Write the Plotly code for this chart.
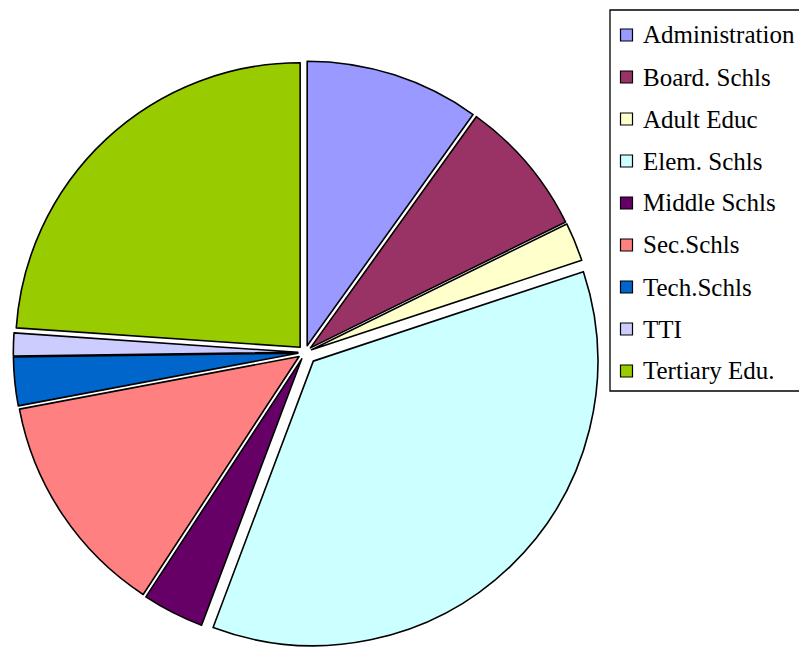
import plotly.graph_objects as go

labels = ["Administration", "Board. Schls", "Adult Educ", "Elem. Schls", "Middle Schls",
          "Sec.Schls", "Tech.Schls", "TTI", "Tertiary Edu."]
values = [9.9, 7.8, 2.2, 35.8, 3.5, 12.8, 2.75, 1.3, 23.9]
colors = ["#9999FF", "#993366", "#FFFFCC", "#CCFFFF", "#660066",
          "#FF8080", "#0066CC", "#CCCCFF", "#99CC00"]
pulls = [0.025, 0.025, 0.025, 0.042, 0.025, 0.025, 0.025, 0.025, 0.025]

W, H = 807, 649
OFF = 8  # page body margin


def px(x):
    return (x - OFF) / W


def py(y):
    return 1 - (y - OFF) / H


fig = go.Figure()
fig.add_trace(go.Pie(
    labels=labels, values=values, sort=False, direction="clockwise", rotation=0,
    pull=pulls, textinfo="none", hoverinfo="label+percent",
    marker=dict(colors=colors, line=dict(color="black", width=1.6)),
    domain=dict(x=[max(px(8.5), 0), px(601.5)], y=[py(649), py(56)]),
    showlegend=False,
))

shapes = []
annotations = []
# legend frame
shapes.append(dict(type="rect", xref="paper", yref="paper",
                   x0=px(610), x1=px(812), y0=py(391), y1=py(10),
                   line=dict(color="black", width=1.3), fillcolor="rgba(0,0,0,0)"))
row0, gap = 35, 42
for i, (lab, col) in enumerate(zip(labels, colors)):
    yc = row0 + i * gap
    shapes.append(dict(type="rect", xref="paper", yref="paper",
                       x0=px(620.5), x1=px(632.5), y0=py(yc + 6), y1=py(yc - 6),
                       line=dict(color="black", width=1.2), fillcolor=col))
    annotations.append(dict(xref="paper", yref="paper", x=px(641), y=py(yc),
                            xanchor="left", yanchor="middle", showarrow=False,
                            text=lab, font=dict(family="Liberation Serif", size=25, color="black")))

fig.update_layout(
    width=W, height=H, margin=dict(l=0, r=0, t=0, b=0),
    paper_bgcolor="white", plot_bgcolor="white",
    shapes=shapes, annotations=annotations,
)
fig.write_html("out.html")
